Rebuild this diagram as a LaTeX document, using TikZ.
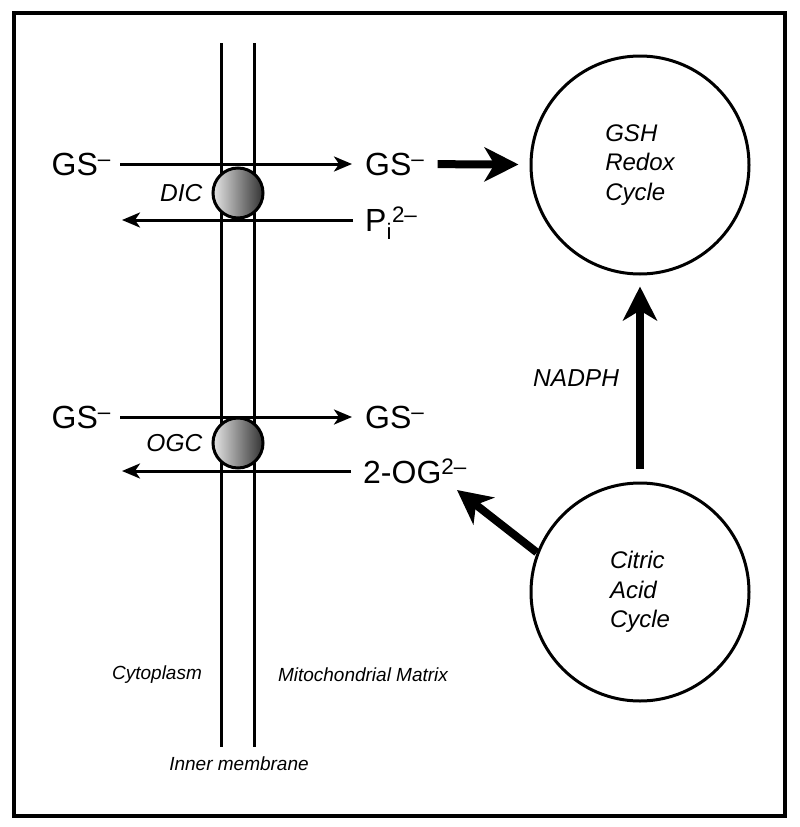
\documentclass[tikz,border=0pt]{standalone}
\usepackage{fontspec}
\setmainfont{Liberation Sans}
\usepackage{tikz}
\usetikzlibrary{positioning, arrows.meta}
\tikzstyle{chem} = [font=\fontsize{32}{34}\selectfont, inner sep=0pt, text height=23pt, text depth=0pt]
\tikzstyle{tag} = [font=\fontsize{24.5}{29}\selectfont\itshape, inner sep=0pt]
\tikzstyle{region} = [font=\fontsize{19}{22}\selectfont\itshape, inner sep=0pt]
\tikzstyle{cycle} = [circle, draw=black, line width=3pt, minimum size=218pt, align=left, font=\fontsize{24}{29.5}\selectfont\itshape]
\tikzstyle{carrier} = [circle, draw=black, line width=3pt, minimum size=50pt, inner sep=0pt, left color=black!10, right color=black!80]
\tikzstyle{membrane} = [line width=3pt]
\tikzstyle{thinarrow} = [line width=3pt, -{Stealth[length=18pt,width=15pt,inset=5pt]}]
\tikzstyle{fatarrow} = [line width=8pt, -{Stealth[length=34pt,width=34pt,inset=10pt]}]

\begin{document}
\begin{tikzpicture}[x=1pt, y=-1pt]
        \useasboundingbox (0,0) rectangle (800,827);
        \draw[line width=4pt] (14,13) rectangle (785,816);

        % Membrane
        \draw[membrane] (221,43) -- (221,747);
        \draw[membrane] (254,43) -- (254,747);

        % Nodes
        \node (gsA) [chem, anchor=east] at (111,164) {GS\textsuperscript{–}};
        \node (gsB) [chem, anchor=west] at (365,164) {GS\textsuperscript{–}};
        \node (pi) [chem, anchor=west] at (365,220) {P\textsubscript{i}\textsuperscript{2–}};
        \coordinate (piEnd) at (122,220);
        \node (gsC) [chem, anchor=east] at (111,417) {GS\textsuperscript{–}};
        \node (gsD) [chem, anchor=west] at (365,417) {GS\textsuperscript{–}};
        \node (og) [chem, anchor=west] at (363,472) {2-OG\textsuperscript{2–}};
        \coordinate (ogEnd) at (122,471);
        \coordinate (ogTip) at (457,490);

        \node (gsh) [cycle] at (640,165) {GSH\\Redox\\Cycle};
        \node (cac) [cycle] at (640,592) {Citric\\Acid\\Cycle};

        \node (cyto) [region] at (157,675) {Cytoplasm};
        \node (matrix) [region] at (363,675) {Mitochondrial Matrix};
        \node (inner) [region] at (239,764) {Inner membrane};

        % Arrows
        \draw [thinarrow, shorten <=9pt, shorten >=13pt] (gsA) -- (gsB);
        \draw [thinarrow, shorten <=12pt] (pi) -- (piEnd);
        \draw [thinarrow, shorten <=9pt, shorten >=13pt] (gsC) -- (gsD);
        \draw [thinarrow, shorten <=12pt] (og.west |- ogEnd) -- (ogEnd);
        \draw [fatarrow, shorten <=13pt, shorten >=11pt] (gsB) -- (gsh);
        \draw [fatarrow, shorten <=13pt, shorten >=11pt] (cac) -- node[tag, left=17pt] {NADPH} (gsh);
        \draw [fatarrow] (cac.159) -- (ogTip);

        % Carriers
        \node (dic) [carrier] at (238,193) {};
        \node (ogc) [carrier] at (238,443) {};
        \node [tag, left=9pt of dic] {DIC};
        \node [tag, left=9pt of ogc] {OGC};
\end{tikzpicture}
\end{document}
